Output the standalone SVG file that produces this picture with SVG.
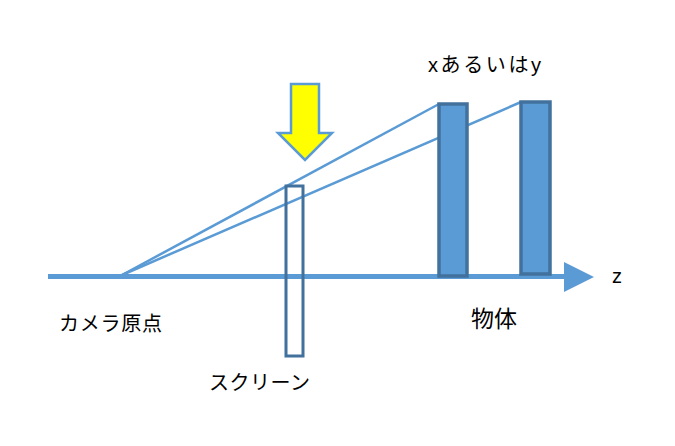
<svg xmlns="http://www.w3.org/2000/svg" width="675" height="446" viewBox="0 0 675 446">
<style>
.t{font-family:"Liberation Sans","Noto Sans CJK JP",sans-serif;font-size:20px;fill:#000}
.ray{stroke:#5B9BD5;stroke-width:2.5;fill:none}
.obj{fill:#5B9BD5;stroke:#41719C;stroke-width:3.5}
</style>
<rect width="675" height="446" fill="#fff"/>
<g id="connectors">
<line x1="48" y1="276.5" x2="566" y2="276.5" stroke="#5B9BD5" stroke-width="5"/>
<polygon points="564,262 594,277 564,292" fill="#5B9BD5"/>
<line class="ray" x1="122" y1="275" x2="439" y2="104"/>
<line class="ray" x1="122" y1="275" x2="521" y2="102"/>
</g>
<g id="screen">
<rect x="286" y="186" width="17" height="170" fill="none" stroke="#41719C" stroke-width="3"/>
<text class="t" x="209" y="390" textLength="101" lengthAdjust="spacing">スクリーン</text>
</g>
<g id="object1"><rect class="obj" x="439" y="104" width="28" height="172"/></g>
<g id="object2"><rect class="obj" x="521" y="102" width="29" height="172"/></g>
<g id="arrow"><polygon points="291,84 319,84 319,133 332,133 305,160 278,133 291,133" fill="#FFFF00" stroke="#5B9BD5" stroke-width="2.5"/></g>
<g id="labels">
<text class="t" x="428" y="72" textLength="113" lengthAdjust="spacing">xあるいはy</text>
<text class="t" x="59" y="331" textLength="103" lengthAdjust="spacing">カメラ原点</text>
<text class="t" x="471" y="327" style="font-size:23px">物体</text>
<text class="t" x="612" y="283">z</text>
</g>
</svg>
